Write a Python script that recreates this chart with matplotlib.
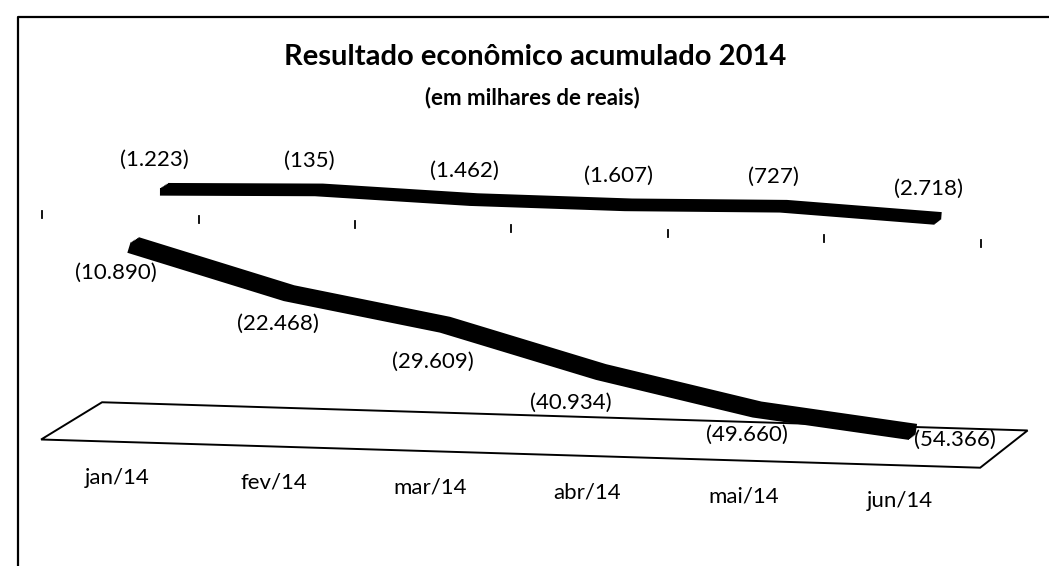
import numpy as np
import matplotlib
matplotlib.use("Agg")
import matplotlib.pyplot as plt
from matplotlib.transforms import Affine2D

# ---- data ----
months = ["jan/14", "fev/14", "mar/14", "abr/14", "mai/14", "jun/14"]
monthly = [-1223, -135, -1462, -1607, -727, -2718]          # back series
cumulative = [-10890, -22468, -29609, -40934, -49660, -54366]  # front series
monthly_labels = ["(1.223)", "(135)", "(1.462)", "(1.607)", "(727)", "(2.718)"]
cumulative_labels = ["(10.890)", "(22.468)", "(29.609)", "(40.934)", "(49.660)", "(54.366)"]
axis_min = -61000

# ---- layout (pseudo 3D projection) ----
W, H = 1049, 566
X0, SX, P = 133, 156, 0.0075   # x of first category, spacing, perspective shrink
Y0, K, TY = 204, 0.00376, 4.7  # y of value 0, px per unit, tilt per category
DX, DY = 31, -19.3             # shift per unit of depth

plt.rcParams["font.family"] = ["Lato", "DejaVu Sans"]

fig = plt.figure(figsize=(W / 100, H / 100), dpi=100)
ax = fig.add_axes([0, 0, 1, 1])
ax.set_xlim(0, W)
ax.set_ylim(H, 0)
ax.axis("off")


def proj(d):
    s = SX * (1 - P * d)
    return Affine2D(np.array([[s, 0, X0 + DX * d],
                              [TY, -K, Y0 + DY * d],
                              [0, 0, 1]])) + ax.transData


def to_px(i, v, d):
    return ax.transData.inverted().transform(proj(d).transform((i, v)))


x = np.arange(len(months))

# frame
ax.plot([18, 18, W + 5], [H + 5, 17, 17], color="black", lw=1.6)

# title
ax.text(535, 65, "Resultado econômico acumulado 2014", ha="center", va="baseline",
        fontsize=21, fontweight="bold")
ax.text(532, 104, "(em milhares de reais)", ha="center", va="baseline",
        fontsize=16, fontweight="bold")

# floor
dF, dB = -0.44, 1.49
corners = [(-0.5, dF), (5.5, dF), (5.5, dB), (-0.5, dB)]
pts = [to_px(i, axis_min, d) for i, d in corners]
ax.fill([p[0] for p in pts], [p[1] for p in pts], facecolor="white",
        edgecolor="black", lw=1.4, zorder=1)

# category tick marks
for b in np.arange(-0.5, len(months), 1.0):
    p = to_px(b, -1400, -0.41)
    ax.plot([p[0], p[0]], [p[1] - 3.5, p[1] + 3.5], color="black", lw=1.3)

# ribbons
for d_center, vals, lw in [(1.0, monthly, 5.5), (0.0, cumulative, 8)]:
    for dd in np.linspace(-0.13, 0.13, 7):
        ax.plot(x, vals, color="black", lw=lw, solid_capstyle="butt",
                solid_joinstyle="round", transform=proj(d_center + dd), zorder=3)

# data labels
for i, (v, t) in enumerate(zip(monthly, monthly_labels)):
    ax.annotate(t, (i, v), xycoords=proj(1.0), xytext=(-7, 21),
                textcoords="offset points", ha="center", va="center",
                fontsize=16, zorder=4)

cum_offsets = [(-12, -20), (-8, -22), (-9, -27), (-22, -22), (-7, -18), (30, -6)]
for i, (v, t) in enumerate(zip(cumulative, cumulative_labels)):
    ax.annotate(t, (i, v), xycoords=proj(0.0), xytext=cum_offsets[i],
                textcoords="offset points", ha="center", va="center",
                fontsize=16, zorder=4)

# category labels
for i, m in enumerate(months):
    ax.annotate(m, (i, axis_min), xycoords=proj(dF), xytext=(-1.5, -26),
                textcoords="offset points", ha="center", va="center",
                fontsize=16)

fig.savefig("out.png", dpi=100)
